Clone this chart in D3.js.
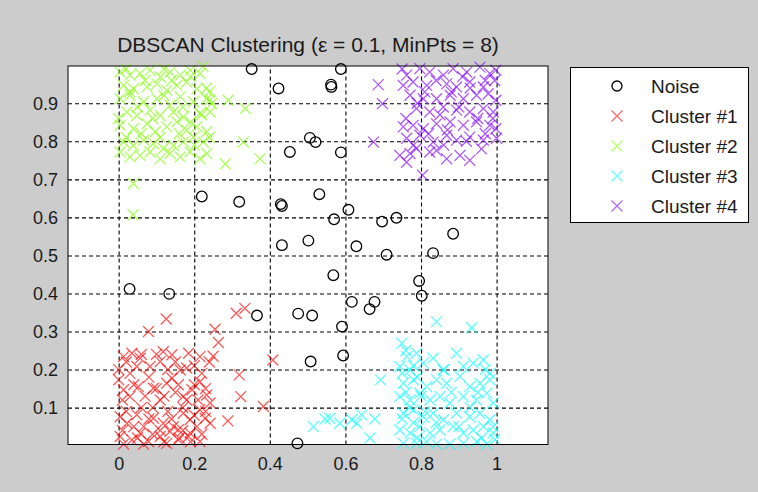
<!DOCTYPE html>
<html>
<head>
<meta charset="utf-8">
<script src="https://cdn.jsdelivr.net/npm/d3@7"></script>
<style>
  html, body { margin: 0; padding: 0; background: #cccccc; }
  svg { display: block; }
</style>
</head>
<body>
<svg id="chart" width="758" height="492"></svg>
<script>
// values
const noise = [
  [0.352, 0.990], [0.588, 0.990], [0.423, 0.939], [0.562, 0.949], [0.563, 0.943],
  [0.506, 0.809], [0.521, 0.798], [0.453, 0.772], [0.588, 0.771], [0.319, 0.641],
  [0.531, 0.661], [0.429, 0.635], [0.432, 0.630], [0.220, 0.655], [0.570, 0.595],
  [0.608, 0.620], [0.697, 0.589], [0.735, 0.599], [0.885, 0.557], [0.432, 0.527],
  [0.502, 0.539], [0.629, 0.524], [0.709, 0.502], [0.832, 0.506], [0.568, 0.448],
  [0.795, 0.433], [0.802, 0.394], [0.617, 0.378], [0.677, 0.378], [0.664, 0.359],
  [0.366, 0.342], [0.475, 0.347], [0.512, 0.342], [0.591, 0.313], [0.594, 0.237],
  [0.508, 0.221], [0.473, 0.006], [0.029, 0.412], [0.134, 0.399]
]

const cluster1 = [
  [0.013, 0.234], [0.035, 0.243], [0.057, 0.230], [0.048, 0.208], [0.118, 0.247],
  [0.141, 0.239], [0.185, 0.243], [0.215, 0.234], [0.163, 0.199], [0.180, 0.204],
  [0.110, 0.221], [0.083, 0.208], [0.000, 0.173], [0.013, 0.147], [0.030, 0.129],
  [0.052, 0.155], [0.092, 0.151], [0.127, 0.164], [0.141, 0.177], [0.158, 0.160],
  [0.194, 0.147], [0.215, 0.168], [0.233, 0.133], [0.171, 0.129], [0.110, 0.120],
  [0.004, 0.076], [0.022, 0.059], [0.048, 0.081], [0.066, 0.050], [0.092, 0.072],
  [0.118, 0.059], [0.145, 0.050], [0.171, 0.085], [0.189, 0.068], [0.215, 0.094],
  [0.229, 0.072], [0.207, 0.050], [0.004, 0.024], [0.035, 0.015], [0.057, 0.033],
  [0.079, 0.011], [0.110, 0.024], [0.136, 0.037], [0.158, 0.015], [0.185, 0.024],
  [0.215, 0.011], [0.066, 0.004], [0.127, 0.006], [0.013, 0.004], [0.242, 0.112],
  [0.242, 0.059], [0.189, 0.033], [0.158, 0.042],
  [0.020, 0.220], [0.030, 0.190], [0.060, 0.240], [0.080, 0.180], [0.100, 0.240],
  [0.130, 0.200], [0.150, 0.220], [0.200, 0.210], [0.220, 0.190], [0.240, 0.220],
  [0.010, 0.120], [0.040, 0.160], [0.070, 0.130], [0.100, 0.150], [0.120, 0.130],
  [0.150, 0.140], [0.180, 0.120], [0.200, 0.160], [0.230, 0.150], [0.060, 0.100],
  [0.090, 0.100], [0.130, 0.090], [0.170, 0.100], [0.200, 0.080], [0.020, 0.090],
  [0.040, 0.050], [0.080, 0.070], [0.110, 0.040], [0.140, 0.070], [0.170, 0.040],
  [0.190, 0.010], [0.220, 0.030], [0.230, 0.090], [0.010, 0.040], [0.050, 0.020],
  [0.090, 0.030], [0.120, 0.010], [0.160, 0.020], [0.210, 0.120], [0.000, 0.200],
  [0.126, 0.333], [0.079, 0.300], [0.255, 0.306], [0.264, 0.271], [0.311, 0.348],
  [0.334, 0.361], [0.408, 0.225], [0.319, 0.186], [0.323, 0.129], [0.383, 0.103],
  [0.289, 0.065], [0.250, 0.235]
]

const cluster2 = [
  [0.004, 0.982], [0.030, 0.974], [0.057, 0.978], [0.083, 0.987], [0.110, 0.969],
  [0.136, 0.982], [0.163, 0.974], [0.189, 0.987], [0.215, 0.978], [0.013, 0.947],
  [0.039, 0.938], [0.075, 0.943], [0.101, 0.951], [0.127, 0.934], [0.154, 0.947],
  [0.180, 0.956], [0.207, 0.938], [0.004, 0.912], [0.030, 0.921], [0.066, 0.904],
  [0.101, 0.912], [0.136, 0.895], [0.163, 0.917], [0.198, 0.904], [0.233, 0.912],
  [0.246, 0.899], [0.022, 0.877], [0.048, 0.868], [0.083, 0.882], [0.110, 0.868],
  [0.145, 0.877], [0.171, 0.864], [0.215, 0.873], [0.242, 0.877], [0.004, 0.842],
  [0.039, 0.833], [0.075, 0.846], [0.097, 0.825], [0.127, 0.838], [0.154, 0.851],
  [0.180, 0.829], [0.207, 0.838], [0.233, 0.825], [0.013, 0.798], [0.039, 0.789],
  [0.066, 0.803], [0.092, 0.794], [0.118, 0.781], [0.145, 0.789], [0.171, 0.798],
  [0.198, 0.811], [0.224, 0.798], [0.004, 0.772], [0.030, 0.759], [0.057, 0.763],
  [0.083, 0.772], [0.110, 0.754], [0.136, 0.768], [0.163, 0.759], [0.189, 0.772],
  [0.215, 0.754], [0.233, 0.768],
  [0.020, 0.990], [0.070, 0.960], [0.120, 0.990], [0.140, 0.960], [0.050, 0.890],
  [0.090, 0.860], [0.120, 0.920], [0.170, 0.890], [0.190, 0.850], [0.220, 0.870],
  [0.020, 0.810], [0.060, 0.820], [0.110, 0.810], [0.160, 0.820], [0.200, 0.790],
  [0.240, 0.810], [0.030, 0.930], [0.190, 0.970], [0.240, 0.930], [0.000, 0.860],
  [0.290, 0.908], [0.335, 0.886], [0.330, 0.798], [0.282, 0.741], [0.374, 0.754],
  [0.039, 0.689], [0.038, 0.607], [0.242, 0.909], [0.233, 0.940], [0.223, 0.997]
]

const cluster3 = [
  [0.749, 0.269], [0.762, 0.234], [0.788, 0.243], [0.744, 0.208], [0.771, 0.199],
  [0.806, 0.217], [0.832, 0.230], [0.859, 0.199], [0.894, 0.243], [0.912, 0.208],
  [0.938, 0.217], [0.965, 0.225], [0.982, 0.190], [0.753, 0.164], [0.780, 0.173],
  [0.815, 0.155], [0.841, 0.173], [0.868, 0.164], [0.903, 0.182], [0.929, 0.155],
  [0.956, 0.164], [0.982, 0.173], [0.744, 0.129], [0.771, 0.120], [0.797, 0.138],
  [0.824, 0.120], [0.850, 0.129], [0.876, 0.112], [0.912, 0.129], [0.947, 0.120],
  [0.974, 0.138], [0.991, 0.112], [0.753, 0.085], [0.780, 0.094], [0.806, 0.076],
  [0.832, 0.085], [0.859, 0.068], [0.894, 0.085], [0.929, 0.076], [0.956, 0.085],
  [0.982, 0.068], [0.744, 0.041], [0.771, 0.033], [0.797, 0.050], [0.824, 0.033],
  [0.850, 0.041], [0.885, 0.050], [0.912, 0.033], [0.938, 0.041], [0.965, 0.050],
  [0.991, 0.033], [0.753, 0.006], [0.788, 0.006], [0.815, 0.011], [0.841, 0.004],
  [0.876, 0.004], [0.912, 0.006], [0.947, 0.011], [0.974, 0.004], [0.995, 0.016],
  [0.760, 0.250], [0.780, 0.210], [0.790, 0.180], [0.750, 0.190], [0.760, 0.140],
  [0.770, 0.100], [0.750, 0.070], [0.790, 0.020], [0.810, 0.090], [0.860, 0.200],
  [0.880, 0.140], [0.900, 0.050], [0.930, 0.100], [0.950, 0.140], [0.970, 0.200],
  [0.990, 0.050], [0.960, 0.020], [0.840, 0.060], [0.800, 0.130], [0.780, 0.060],
  [0.841, 0.326], [0.934, 0.310], [0.693, 0.173], [0.515, 0.050], [0.546, 0.070],
  [0.559, 0.072], [0.585, 0.059], [0.617, 0.068], [0.630, 0.059], [0.643, 0.081],
  [0.678, 0.070], [0.665, 0.020]
]

const cluster4 = [
  [0.762, 0.974], [0.797, 0.991], [0.823, 0.982], [0.859, 0.974], [0.885, 0.991],
  [0.921, 0.982], [0.956, 0.995], [0.982, 0.978], [0.998, 0.987], [0.753, 0.947],
  [0.779, 0.956], [0.815, 0.947], [0.868, 0.951], [0.894, 0.943], [0.929, 0.956],
  [0.965, 0.943], [0.995, 0.960], [0.771, 0.921], [0.806, 0.912], [0.841, 0.912],
  [0.877, 0.921], [0.912, 0.912], [0.947, 0.921], [0.978, 0.925], [0.998, 0.908],
  [0.788, 0.886], [0.823, 0.877], [0.859, 0.890], [0.894, 0.882], [0.929, 0.877],
  [0.965, 0.886], [0.991, 0.877], [0.753, 0.838], [0.779, 0.842], [0.806, 0.833],
  [0.841, 0.846], [0.877, 0.851], [0.912, 0.842], [0.947, 0.851], [0.982, 0.842],
  [0.998, 0.833], [0.762, 0.808], [0.797, 0.816], [0.832, 0.798], [0.868, 0.816],
  [0.894, 0.803], [0.929, 0.811], [0.965, 0.803], [1.000, 0.808], [0.744, 0.763],
  [0.771, 0.768], [0.762, 0.745], [0.788, 0.781], [0.823, 0.772], [0.868, 0.754],
  [0.903, 0.763], [0.929, 0.750], [0.841, 0.776],
  [0.750, 0.990], [0.840, 0.960], [0.910, 0.970], [0.970, 0.960], [0.790, 0.900],
  [0.850, 0.870], [0.900, 0.890], [0.950, 0.860], [0.990, 0.860], [0.760, 0.860],
  [0.820, 0.820], [0.870, 0.830], [0.920, 0.800], [0.970, 0.820], [0.780, 0.790],
  [0.860, 0.790], [0.960, 0.780], [0.810, 0.930], [0.880, 0.930], [0.930, 0.940],
  [0.687, 0.949], [0.698, 0.899], [0.674, 0.798], [0.804, 0.711]
]

const xTicks = [0, 0.2, 0.4, 0.6, 0.8, 1]
const yTicks = [0.1, 0.2, 0.3, 0.4, 0.5, 0.6, 0.7, 0.8, 0.9]
const legendLabels = ["Noise", "Cluster #1", "Cluster #2", "Cluster #3", "Cluster #4"]
// hsv(4) as MATLAB gives it
const clusterColors = ["#ff0000", "#80ff00", "#00ffff", "#8000ff"]

const svg = d3.select("#chart")
const box = {left: 68, top: 66, right: 548, bottom: 444.5}
const font = "Liberation Sans, Arial, Helvetica, sans-serif"

const x = d3.scaleLinear().domain([-0.134, 1.136]).range([box.left, box.right])
const y = d3.scaleLinear().domain([0.003, 0.998]).range([box.bottom, box.top])

svg.append("rect")
    .attr("x", box.left)
    .attr("y", box.top)
    .attr("width", box.right - box.left)
    .attr("height", box.bottom - box.top)
    .style("fill", "#ffffff")

// grid
svg.append("g")
    .attr("transform", `translate(0, ${box.bottom})`)
    .call(d3.axisBottom(x).tickValues(xTicks).tickSize(-(box.bottom - box.top)).tickFormat(""))
    .call(g => g.select(".domain").remove())
    .call(g => g.selectAll(".tick line")
        .style("stroke", "#000").style("stroke-dasharray", "4,3").style("stroke-width", 1.1))

svg.append("g")
    .attr("transform", `translate(${box.left}, 0)`)
    .call(d3.axisLeft(y).tickValues(yTicks).tickSize(-(box.right - box.left)).tickFormat(""))
    .call(g => g.select(".domain").remove())
    .call(g => g.selectAll(".tick line")
        .style("stroke", "#000").style("stroke-dasharray", "4,3").style("stroke-width", 1.1))

// tick labels
svg.append("g")
    .attr("transform", `translate(0, ${box.bottom})`)
    .call(d3.axisBottom(x).tickValues(xTicks).tickSize(0).tickPadding(13).tickFormat(d3.format("")))
    .call(g => g.select(".domain").remove())
    .call(g => g.selectAll(".tick text")
        .style("font-family", font).style("font-size", "18px").style("fill", "#1a1a1a"))

svg.append("g")
    .attr("transform", `translate(${box.left}, 0)`)
    .call(d3.axisLeft(y).tickValues(yTicks).tickSize(0).tickPadding(10).tickFormat(d3.format("")))
    .call(g => g.select(".domain").remove())
    .call(g => g.selectAll(".tick text")
        .style("font-family", font).style("font-size", "18px").style("fill", "#1a1a1a"))

// marks
const cross = d3.symbol().type(d3.symbolX).size(80)

const plot = svg.append("g")

const clusters = [cluster1, cluster2, cluster3, cluster4]
clusters.forEach((pts, i) => {
    plot.append("g").selectAll("path")
        .data(pts)
        .join("path")
        .attr("d", cross)
        .attr("transform", d => `translate(${x(d[0])}, ${y(d[1])})`)
        .style("fill", "none")
        .style("stroke", clusterColors[i])
        .style("stroke-width", 1.3)
        .style("stroke-opacity", 0.65)
})

plot.append("g").selectAll("circle")
    .data(noise)
    .join("circle")
    .attr("cx", d => x(d[0]))
    .attr("cy", d => y(d[1]))
    .attr("r", 5.3)
    .style("fill", "none")
    .style("stroke", "#000")
    .style("stroke-width", 1.3)

// frame
svg.append("rect")
    .attr("x", box.left)
    .attr("y", box.top)
    .attr("width", box.right - box.left)
    .attr("height", box.bottom - box.top)
    .style("fill", "none")
    .style("stroke", "#000")
    .style("stroke-width", 1)

svg.append("text")
    .attr("x", (box.left + box.right) / 2)
    .attr("y", 52)
    .attr("text-anchor", "middle")
    .text("DBSCAN Clustering (ε = 0.1, MinPts = 8)")
    .style("font-family", font)
    .style("font-size", "21px")
    .style("fill", "#1a1a1a")

// legend
const legend = svg.append("g")
legend.append("rect")
    .attr("x", 570.5)
    .attr("y", 67.5)
    .attr("width", 178)
    .attr("height", 155)
    .style("fill", "#ffffff")
    .style("stroke", "#000")

const row = d3.scalePoint().domain(legendLabels).range([86, 206])

legend.selectAll("text")
    .data(legendLabels)
    .join("text")
    .attr("x", 651)
    .attr("y", d => row(d))
    .attr("dy", "0.35em")
    .text(d => d)
    .style("font-family", font)
    .style("font-size", "19px")
    .style("fill", "#1a1a1a")

legend.append("circle")
    .attr("cx", 617)
    .attr("cy", row(legendLabels[0]))
    .attr("r", 5)
    .style("fill", "none")
    .style("stroke", "#000")
    .style("stroke-width", 1.3)

legend.selectAll("path")
    .data(legendLabels.slice(1))
    .join("path")
    .attr("d", cross)
    .attr("transform", d => `translate(617, ${row(d)})`)
    .style("fill", "none")
    .style("stroke", (d, i) => clusterColors[i])
    .style("stroke-width", 1.2)
    .style("stroke-opacity", 0.6)
</script>
</body>
</html>
